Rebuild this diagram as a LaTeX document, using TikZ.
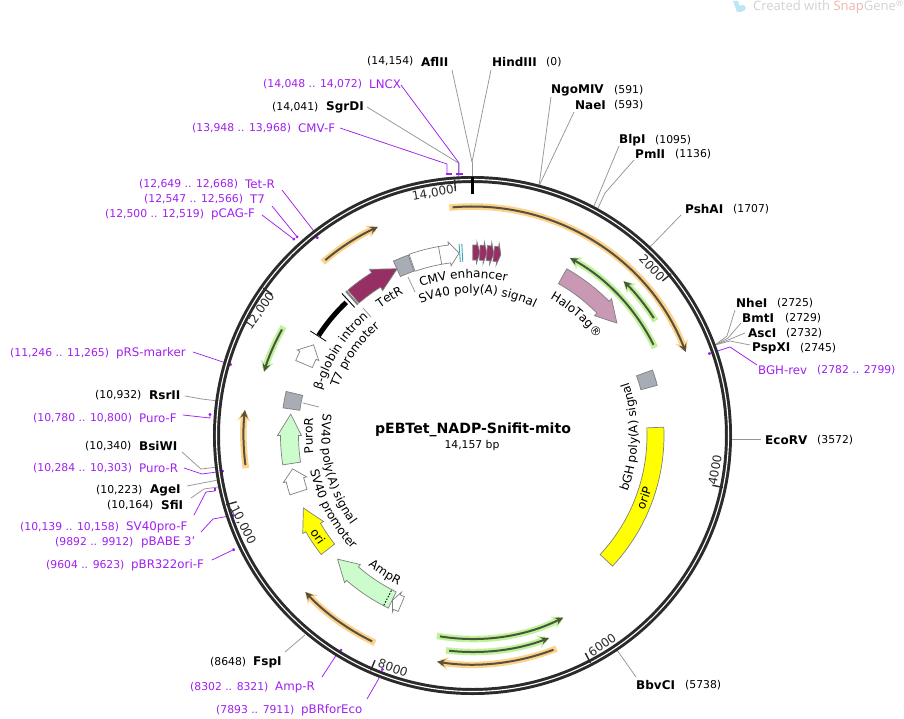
\documentclass[tikz,border=0pt]{standalone}
\usepackage{fontspec}
\setmainfont{DejaVu Sans}
\newfontfamily\wmfont{Open Sans}
\usetikzlibrary{arrows.meta,decorations.text}
\definecolor{prim}{HTML}{A020F0}
\definecolor{ringc}{HTML}{2B2B2B}
\definecolor{leadc}{HTML}{969696}
\definecolor{hlo}{HTML}{FDD28A}
\definecolor{hlg}{HTML}{BFF29A}
\definecolor{darko}{HTML}{55503F}
\definecolor{darkg}{HTML}{48573C}
\definecolor{edge}{HTML}{808080}
\definecolor{maroon}{HTML}{962F63}
\definecolor{pinkf}{HTML}{C998B4}
\definecolor{greenf}{HTML}{CCFCCC}
\definecolor{grayf}{HTML}{A8ADB5}
\definecolor{tealf}{HTML}{3BA3B8}
\definecolor{yellowf}{RGB}{255,255,0}
\definecolor{wmgray}{HTML}{D2D2D2}
\definecolor{wmred}{HTML}{F0B4AE}
\definecolor{wmblue}{HTML}{BDE6F5}
\newcommand\ftxt{\fontsize{12}{14}\selectfont}
\newcommand\numtxt{\fontsize{10.8}{12}\selectfont}
\tikzset{
  enzname/.style={anchor=west,inner sep=0pt,font=\fontsize{12}{14}\selectfont\bfseries,text=black},
  enznum/.style={anchor=west,inner sep=0pt,font=\numtxt,text=black},
  prname/.style={anchor=west,inner sep=0pt,font=\fontsize{11.8}{14}\selectfont,text=prim},
  prnum/.style={anchor=west,inner sep=0pt,font=\numtxt,text=prim},
  leadg/.style={draw=leadc,line width=0.75pt},
  leadp/.style={draw=prim,line width=0.75pt},
  leadd/.style={draw=prim,line width=0.75pt,-{Circle[length=3pt,width=3pt]}},
  foot/.style={draw=prim,line width=1.7pt},
  tickm/.style={draw=ringc,line width=1.4pt},
  ticktxt/.style={inner sep=0pt,font=\fontsize{12}{14}\selectfont,text=ringc},
  featw/.style={draw=edge,line width=0.7pt,fill=white},
  featm/.style={draw=edge,line width=0.7pt,fill=maroon},
  featp/.style={draw=edge,line width=0.7pt,fill=pinkf},
  featg/.style={draw=edge,line width=0.7pt,fill=greenf},
  featy/.style={draw=edge,line width=0.7pt,fill=yellowf},
  feats/.style={draw=edge,line width=0.7pt,fill=grayf},
}
\newcommand\enz[6]{\node[enzname] (#1) at (#3,#4) {#2};\node[enznum] (#1n) at (#6,#4) {#5};}
\newcommand\prm[6]{\node[prname] (#1) at (#3,#4) {#2};\node[prnum] (#1n) at (#6,#4) {#5};}
\newcommand\leadtwo[4]{\coordinate (#2a) at (#3);\coordinate (#2b) at (#4);\draw[#1] (#2a) -- (#2b);}
\newcommand\leadthree[5]{\coordinate (#2a) at (#3);\coordinate (#2b) at (#4);\coordinate (#2c) at (#5);\draw[#1] (#2a) -- (#2b) -- (#2c);}
% arrow-shaped feature: style, r, half width, head half width, tail, shoulder, tip (degrees clockwise from top)
\newcommand\arrowfeat[7]{%
  \pgfmathsetmacro\ro{#2+#3}\pgfmathsetmacro\ri{#2-#3}\pgfmathsetmacro\rho{#2+#4}\pgfmathsetmacro\rhi{#2-#4}%
  \draw[#1] ({90-(#5)}:\ro) arc[start angle={90-(#5)},end angle={90-(#6)},radius=\ro]
    -- ({90-(#6)}:\rho) -- ({90-(#7)}:#2) -- ({90-(#6)}:\rhi) -- ({90-(#6)}:\ri)
    arc[start angle={90-(#6)},end angle={90-(#5)},radius=\ri] -- cycle;}
% primer arc: highlight, dark, r, from, to
\newcommand\primer[5]{%
  \draw[#1,line width=6.5pt,line cap=rect,-{Stealth[length=11pt,width=13pt]}] ({90-(#4)}:#3) arc[start angle={90-(#4)},end angle={90-(#5)},radius=#3];
  \draw[#2,line width=2pt,-{Stealth[length=8pt,width=7.5pt]}] ({90-(#4)}:#3) arc[start angle={90-(#4)},end angle={90-(#5)},radius=#3];}
% text on arc: r, centre angle, half span; cw = clockwise path (tops outward), ccw = tops inward
\newcommand\cwtext[4]{\path[decorate,decoration={text along path,text align=center,text={|\ftxt|#4}}] ({90-(#2)+(#3)}:#1) arc[start angle={90-(#2)+(#3)},end angle={90-(#2)-(#3)},radius=#1];}
\newcommand\ccwtext[4]{\path[decorate,decoration={text along path,text align=center,text={|\ftxt|#4}}] ({90-(#2)-(#3)}:#1) arc[start angle={90-(#2)-(#3)},end angle={90-(#2)+(#3)},radius=#1];}
\newcommand\tickat[1]{\draw[tickm] ({90-(#1)}:256) -- ({90-(#1)}:245);}
\begin{document}
\begin{tikzpicture}[x=1pt,y=1pt]
\useasboundingbox (-472.5,-282.5) rectangle (431.5,435.5);
\fill[white] (-472.5,-282.5) rectangle (431.5,435.5);
\begin{scope}[shift={(-472.5,435.5)},y=-1pt]
% watermark
\fill[wmblue] (733,1) -- (738,1) -- (742,12) -- (737,12) -- cycle;
\fill[wmblue] (742.5,8) circle (3.2);
\node[anchor=west,inner sep=0pt,font=\wmfont\fontsize{13}{14}\selectfont,text=wmgray] (wm) at (753,6.5) {Created with \textcolor{wmred}{Snap}Gene\textsuperscript{®}};
% gray leaders
\leadtwo{leadg}{hind}{491,70}{472,162}
\leadtwo{leadg}{afl}{452,70}{472,162}
\leadtwo{leadg}{zero}{472,162}{472,178}
\leadthree{leadg}{sgr}{367,107}{458.5,163}{458.5,178}
\leadtwo{leadg}{ngo}{551,97}{539,186}
\leadtwo{leadg}{nae}{574,112}{539,186}
\leadtwo{leadg}{blp}{619,146}{594,206}
\leadthree{leadg}{pml}{634,160}{605,193}{598,208}
\leadtwo{leadg}{psh}{681,215}{649,248}
\leadthree{leadg}{nhe}{735,310}{727,336}{715,345}
\leadthree{leadg}{bmt}{741,323}{728,338}{715,345}
\leadthree{leadg}{asc}{745,333}{728,340}{715,345}
\leadthree{leadg}{psp}{750,345}{730,341}{715,345}
\leadtwo{leadg}{eco}{729,439}{761,439}
\leadtwo{leadg}{bbv}{617,650}{636,677}
\leadtwo{leadg}{fsp}{285,652}{305,635}
\leadthree{leadg}{sfi}{191,498}{204,489}{218,487}
\leadtwo{leadg}{age}{187,486}{218,480}
\leadthree{leadg}{bsi}{182,452}{201,469}{218,467}
\leadthree{leadg}{rsr}{185,396}{202,399}{218,401}
% purple leaders
\leadthree{leadd}{bgh}{757,365}{730,347}{708,354}
\leadtwo{leadd}{prs}{193,352}{232,365}
\leadthree{leadd}{purof}{183,415}{210,418}{210,413}
\leadthree{leadd}{puror}{184,468}{202,474}{224,471}
\leadthree{leadp}{sv}{194,515}{206,492}{215,491}
\leadthree{leadd}{babe}{201,532}{213,519}{235,515}
\leadtwo{leadd}{ori}{212,560}{235,549}
\leadthree{leadd}{ampr}{322,677}{335,657}{342,649}
\leadthree{leadd}{pbr}{367,699}{378,680}{383,668}
\leadthree{leadd}{tetr}{282,190}{313,230}{318,239}
\leadtwo{leadd}{tsev}{272,206}{298,238}
\leadtwo{leadd}{cag}{262,215}{295,240}
\leadthree{leadp}{cmvf}{340,128}{447,164}{447,174}
\leadthree{leadp}{lncx}{401,85}{459,163}{459,174}
\draw[foot] (446,174) -- (452,174);
\draw[foot] (456,174) -- (463,174);
\draw[foot] (215,490.5) -- (215,487.5);
% enzyme and primer labels
\enz{AflII}{AflII}{421}{61.5}{(14,154)}{367}
\enz{HindIII}{HindIII}{492}{62}{(0)}{546}
\enz{NgoMIV}{NgoMIV}{551}{90}{(591)}{614}
\enz{NaeI}{NaeI}{575}{105}{(593)}{614}
\enz{BlpI}{BlpI}{619}{140}{(1095)}{655}
\enz{PmlI}{PmlI}{635}{154}{(1136)}{675}
\enz{PshAI}{PshAI}{685}{209}{(1707)}{733}
\enz{NheI}{NheI}{736}{303}{(2725)}{777}
\enz{BmtI}{BmtI}{742}{318}{(2729)}{785}
\enz{AscI}{AscI}{748}{333}{(2732)}{786}
\enz{PspXI}{PspXI}{752}{348}{(2745)}{800}
\prm{BGHrev}{BGH-rev}{758}{370}{(2782 .. 2799)}{817}
\enz{EcoRV}{EcoRV}{765}{440}{(3572)}{817}
\enz{BbvCI}{BbvCI}{636}{685}{(5738)}{685}
\enz{FspI}{FspI}{253}{662}{(8648)}{210}
\prm{AmpRp}{Amp-R}{275}{687}{(8302 .. 8321)}{190}
\prm{pBRforEco}{pBRforEco}{301}{710}{(7893 .. 7911)}{216}
\prm{pBRori}{pBR322ori-F}{131}{565}{(9604 .. 9623)}{46}
\prm{pBABE}{pBABE 3'}{141}{542}{(9892 .. 9912)}{55}
\prm{SVpro}{SV40pro-F}{126}{527}{(10,139 .. 10,158)}{20}
\enz{SfiI}{SfiI}{161}{505}{(10,164)}{107}
\enz{AgeI}{AgeI}{150}{490}{(10,223)}{96}
\prm{PuroRp}{Puro-R}{139}{468}{(10,284 .. 10,303)}{33}
\enz{BsiWI}{BsiWI}{139}{446}{(10,340)}{85}
\prm{PuroFp}{Puro-F}{139}{418}{(10,780 .. 10,800)}{33}
\enz{RsrII}{RsrII}{149}{395}{(10,932)}{95}
\prm{pRS}{pRS-marker}{116}{353}{(11,246 .. 11,265)}{10}
\prm{pCAG}{pCAG-F}{211}{214}{(12,500 .. 12,519)}{105}
\prm{Tseven}{T7}{250}{199}{(12,547 .. 12,566)}{144}
\prm{TetRp}{Tet-R}{245}{184}{(12,649 .. 12,668)}{139}
\prm{CMVF}{CMV-F}{298}{128}{(13,948 .. 13,968)}{192}
\enz{SgrDI}{SgrDI}{326}{107}{(14,041)}{272}
\prm{LNCX}{LNCX}{369}{84}{(14,048 .. 14,072)}{263}
% tick labels
\node[ticktxt,rotate=10] (t14) at (433,193) {14,000};
\node[ticktxt,rotate=-47] (t2) at (652,268) {2000};
\node[ticktxt,rotate=80] (t4) at (715,470) {4000};
\node[ticktxt,rotate=35] (t6) at (602,645) {6000};
\node[ticktxt,rotate=-20] (t8) at (393,668) {8000};
\node[ticktxt,rotate=-63] (t10) at (243,525) {10,000};
\node[ticktxt,rotate=55] (t12) at (260,311) {12,000};
% centre title
\node[inner sep=0pt,font=\fontsize{14.1}{16}\selectfont\bfseries] (title) at (473,430) {pEBTet\_NADP-Snifit-mito};
\node[inner sep=0pt,font=\numtxt] (size) at (472,446) {14,157 bp};
% feature leaders
\leadtwo{leadg}{la}{408,277}{415,292}
\leadtwo{leadg}{lb}{363,308}{371,317}
\leadtwo{leadg}{lc}{303,403}{319,407}
\end{scope}
% ring
\draw[ringc,line width=7pt] (0,0) circle (256);
\draw[white,line width=1.1pt] (0,0) circle (256);
\draw[black,line width=3pt] (90:258) -- (90:241);
\tickat{50.86}\tickat{101.72}\tickat{152.58}\tickat{203.44}\tickat{254.3}\tickat{305.16}\tickat{356.0}
% primers
\primer{hlo}{darko}{229}{-5}{68.6}
\primer{hlo}{darko}{229}{-40}{-24.4}
\primer{hlo}{darko}{229}{-97.4}{-83.6}
\primer{hlo}{darko}{229}{206}{226.9}
\primer{hlo}{darko}{229}{159.3}{188.9}
\primer{hlg}{darkg}{202.5}{63.4}{28.8}
\primer{hlg}{darkg}{216}{57.1}{44.4}
\primer{hlg}{darkg}{218}{-60.9}{-73}
\primer{hlg}{darkg}{203.5}{189.2}{153.5}
\primer{hlg}{darkg}{216.5}{186.2}{159.3}
% features
\arrowfeat{featm}{183}{8.5}{12.5}{-40.6}{-31.8}{-24.3}
\draw[black,line width=5pt] ({90+57}:183.5) arc[start angle=147,end angle=133.5,radius=183.5];
\draw[black,line width=0.8pt] ({90+57.2}:174) -- ({90+57.2}:193);
\draw[black,line width=0.9pt] ({90+42.6}:174) -- ({90+42.6}:193);
\draw[edge,line width=2pt] ({90+41.2}:174) -- ({90+41.2}:192);
\arrowfeat{feats}{183}{8.5}{8.5}{-24.4}{-19.6}{-19.6}
\arrowfeat{featw}{183}{9}{12}{-19.3}{-7.2}{-4.2}
\draw[edge,line width=0.7pt] ({90+10.2}:174) -- ({90+10.2}:192);
\draw[tealf,line width=0.9pt] ({90+4}:174) -- ({90+4}:192);
\draw[tealf,line width=0.9pt] ({90+3.2}:174) -- ({90+3.2}:192);
\arrowfeat{featm}{183}{7.5}{11}{0.1}{1.3}{2.3}
\arrowfeat{featm}{183}{7.5}{11}{2.3}{3.5}{4.5}
\arrowfeat{featm}{183}{7.5}{11}{4.5}{5.7}{6.7}
\arrowfeat{featm}{183}{7.5}{11}{6.7}{7.9}{8.9}
\arrowfeat{featp}{183}{8.5}{12}{29.5}{45.5}{52.1}
\arrowfeat{feats}{183}{8.5}{8.5}{70}{74.8}{74.8}
\arrowfeat{featy}{183}{8.5}{8.5}{87.5}{133}{133}
\arrowfeat{featg}{183}{9}{12}{206}{221}{227.5}
\draw[black,line width=0.9pt,dash pattern=on 1.5pt off 1.5pt] ({90-207.6}:175) -- ({90-207.6}:192);
\arrowfeat{featw}{183}{8}{11}{202.9}{204.4}{205.9}
\arrowfeat{featy}{184}{8.5}{12}{231.8}{240}{246.8}
\arrowfeat{featg}{183}{9}{12}{261.2}{270}{276.7}
\arrowfeat{feats}{183}{8.5}{8.5}{278.3}{283.3}{283.3}
\arrowfeat{featw}{183}{9}{12}{252}{256}{259.5}
\arrowfeat{featw}{183}{9}{12}{-67}{-64}{-60.3}
% feature labels
\cwtext{157.5}{-31}{14}{TetR}
\cwtext{157.5}{-3.3}{26}{CMV enhancer}
\cwtext{142}{2.2}{35}{SV40 poly(A) signal}
\cwtext{157.5}{40.7}{20}{HaloTag®}
\ccwtext{165}{90.5}{30}{bGH poly(A) signal}
\ccwtext{187}{110}{12}{oriP}
\cwtext{157.5}{-57.4}{26}{β-globin intron}
\cwtext{142.5}{-55.5}{25}{T7 promoter}
\cwtext{160}{-90}{14}{PuroR}
\ccwtext{151}{-104}{35}{SV40 poly(A) signal}
\ccwtext{166}{-117.7}{26}{SV40 promoter}
\ccwtext{167}{212.5}{12}{AmpR}
\begin{scope}[shift={(-472.5,435.5)},y=-1pt]
\node[inner sep=0pt,font=\ftxt,rotate=-55] (orilab) at (318,536) {ori};
\end{scope}
\end{tikzpicture}
\end{document}
